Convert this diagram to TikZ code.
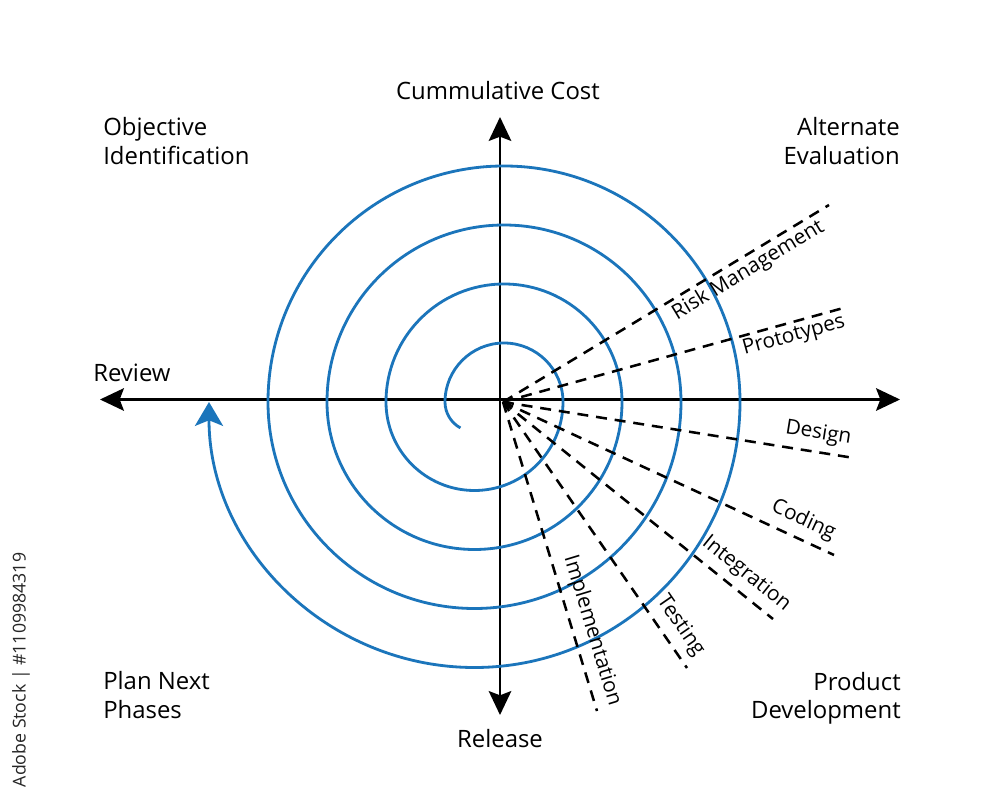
\documentclass[tikz,border=0pt]{standalone}
\usepackage{fontspec}
\setmainfont{Open Sans}
\usetikzlibrary{arrows.meta}
\definecolor{spiralblue}{RGB}{27,117,187}
\begin{document}
\begin{tikzpicture}[x=0.025cm,y=0.025cm,
  axisline/.style={line width=1.8pt,
    {Stealth[length=17pt,width=16pt,inset=3pt]}-{Stealth[length=17pt,width=16pt,inset=3pt]}},
  spiral/.style={draw=spiralblue,line width=2pt,
    -{Stealth[length=17pt,width=20pt,inset=4pt,fill=spiralblue]}},
  dashline/.style={line width=1.8pt,dash pattern=on 7.8pt off 5.6pt},
  biglabel/.style={font=\fontsize{17}{20}\selectfont,inner sep=0pt},
  lbl/.style={font=\fontsize{14.8}{17}\selectfont,sloped,inner sep=0pt},
  stockmark/.style={font=\fontsize{12.6}{14}\selectfont,text=black!85,inner sep=0pt}
]
\useasboundingbox[fill=white] (0,0) rectangle (1000,-800);

% axes
\coordinate (L) at (100,-399.5);
\coordinate (R) at (900,-399.5);
\coordinate (T) at (500,-117);
\coordinate (B) at (500,-715);
\draw[axisline] (L) -- (R);
\draw[axisline] (T) -- (B);

% spiral
\draw[spiral] ([shift={(-118.5:29.5)}]474.5,-402)
  arc[start angle=-118.5,end angle=-180,radius=29.5]
  arc[start angle=180,end angle=0,radius=59]
  arc[start angle=0,end angle=-180,radius=88.5]
  arc[start angle=180,end angle=0,radius=118]
  arc[start angle=0,end angle=-180,radius=147.5]
  arc[start angle=180,end angle=0,radius=177]
  arc[start angle=0,end angle=-180,radius=206.5]
  arc[start angle=180,end angle=0,radius=236]
  arc[start angle=0,end angle=-180,radius=265.5];

% dashed rays
\coordinate (O) at (503,-402);
\coordinate (eRisk) at (829,-205);
\coordinate (eProto) at (847,-307);
\coordinate (eDesign) at (854,-458);
\coordinate (eCoding) at (834,-555);
\coordinate (eInteg) at (773,-619);
\coordinate (eTest) at (687,-668);
\coordinate (eImpl) at (597,-711);
\draw[dashline] (O) -- (eRisk) node[lbl,below=2pt,pos=0.73] (lRisk) {Risk Management};
\draw[dashline] (O) -- (eProto) node[lbl,below=2pt,pos=0.835] (lProto) {Prototypes};
\draw[dashline] (O) -- (eDesign) node[lbl,above=5pt,pos=0.89] (lDesign) {Design};
\draw[dashline] (O) -- (eCoding) node[lbl,above=5pt,pos=0.884] (lCoding) {Coding};
\draw[dashline] (O) -- (eInteg) node[lbl,above=5pt,pos=0.858] (lInteg) {Integration};
\draw[dashline] (O) -- (eTest) node[lbl,above=5pt,pos=0.882] (lTest) {Testing};
\draw[dashline] (O) -- (eImpl) node[lbl,above=5pt,pos=0.757] (lImpl) {Implementation};

% quadrant and axis labels
\node[biglabel] (cost) at (498,-91) {Cummulative Cost};
\node[biglabel,anchor=west,align=left] (obj) at (103,-141) {Objective\\Identification};
\node[biglabel,anchor=east,align=right] (alt) at (900,-141) {Alternate\\Evaluation};
\node[biglabel,anchor=west] (rev) at (93,-373) {Review};
\node[biglabel,anchor=west,align=left] (plan) at (103,-695) {Plan Next\\Phases};
\node[biglabel,anchor=east,align=right] (prod) at (901,-698) {Product\\Development};
\node[biglabel] (rel) at (500,-739) {Release};

% stock mark
\node[stockmark,rotate=90] (wm) at (21,-670) {Adobe Stock | \#1109984319};
\end{tikzpicture}
\end{document}
